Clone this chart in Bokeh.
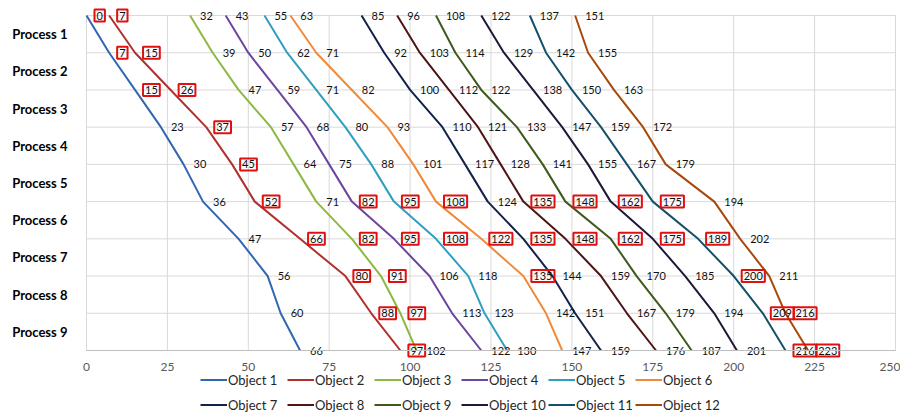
from bokeh.plotting import figure
from bokeh.models import Range1d, FixedTicker, Legend, LegendItem, ColumnDataSource
from bokeh.core.properties import value
from bokeh.embed import file_html
from bokeh.resources import INLINE

processes = ["Process 1", "Process 2", "Process 3", "Process 4", "Process 5",
             "Process 6", "Process 7", "Process 8", "Process 9"]
x_ticks = [0, 25, 50, 75, 100, 125, 150, 175, 200, 225, 250]
levels = [0, 1, 2, 3, 4, 5, 6, 7, 8, 9]

objects = ["Object 1", "Object 2", "Object 3", "Object 4", "Object 5", "Object 6",
           "Object 7", "Object 8", "Object 9", "Object 10", "Object 11", "Object 12"]

obj1 = [0, 7, 15, 23, 30, 36, 47, 56, 60, 66]
obj2 = [7, 15, 26, 37, 45, 52, 66, 80, 88, 97]
obj3 = [32, 39, 47, 57, 64, 71, 82, 91, 97, 102]
obj4 = [43, 50, 59, 68, 75, 82, 95, 106, 113, 122]
obj5 = [55, 62, 71, 80, 88, 95, 108, 118, 123, 130]
obj6 = [63, 71, 82, 93, 101, 108, 122, 135, 142, 147]
obj7 = [85, 92, 100, 110, 117, 124, 135, 144, 151, 159]
obj8 = [96, 103, 112, 121, 128, 135, 148, 159, 167, 176]
obj9 = [108, 114, 122, 133, 141, 148, 162, 170, 179, 187]
obj10 = [122, 129, 138, 147, 155, 162, 175, 185, 194, 201]
obj11 = [137, 142, 150, 159, 167, 175, 189, 200, 209, 216]
obj12 = [151, 155, 163, 172, 179, 194, 202, 211, 216, 223]
series = [obj1, obj2, obj3, obj4, obj5, obj6, obj7, obj8, obj9, obj10, obj11, obj12]

# boundary levels whose labels are highlighted (boxed) for each object
boxed = [
    [0, 1, 2],
    [0, 1, 2, 3, 4, 5, 6, 7, 8, 9],
    [6, 7, 8],
    [5, 6],
    [5, 6],
    [5, 6, 7],
    [6],
    [5, 6],
    [5, 6],
    [5, 6],
    [5, 6, 7, 8, 9],
    [8, 9],
]

colors = ["#2F67B1", "#B0302E", "#8DB843", "#6B46A0", "#2F9FC0", "#F08A3A",
          "#13224A", "#4D1515", "#3E5A1C", "#1F1838", "#14506A", "#A8480A"]

FONT = "Lato"
W, H = 900, 417
# plot area: x 0..250 spans px 86..895, levels 0..9 span px 15..350
sx = (895 - 86) / 250.0
sy = (350 - 15) / 9.0
xr = Range1d(-86 / sx, 250 + (W - 895) / sx)
yr = Range1d(9 + (H - 350) / sy, -15 / sy)

p = figure(width=W, height=H, output_backend="svg", toolbar_location=None,
           x_range=xr, y_range=yr,
           min_border_left=0, min_border_right=0, min_border_top=0, min_border_bottom=0)
p.outline_line_color = None
p.xgrid.visible = False
p.ygrid.visible = False

# grid lines limited to the plot area
p.segment(x0=x_ticks, y0=[levels[0]] * len(x_ticks), x1=x_ticks, y1=[levels[-1]] * len(x_ticks),
          line_color="#D9D9D9", line_width=1)
p.segment(x0=[x_ticks[0]] * len(levels), y0=levels, x1=[x_ticks[-1]] * len(levels), y1=levels,
          line_color="#D9D9D9", line_width=1)

p.xaxis.fixed_location = levels[-1]
p.xaxis.bounds = (x_ticks[0], x_ticks[-1])
p.xaxis.ticker = FixedTicker(ticks=x_ticks)
p.xaxis.major_tick_out = 0
p.xaxis.major_tick_in = 0
p.xaxis.minor_tick_out = 0
p.xaxis.minor_tick_in = 0
p.xaxis.axis_line_color = "#BFBFBF"
p.xaxis.major_label_standoff = 12
p.xaxis.major_label_text_font = FONT
p.xaxis.major_label_text_font_size = "12px"
p.xaxis.major_label_text_color = "#595959"

p.yaxis.fixed_location = x_ticks[0]
p.yaxis.ticker = FixedTicker(ticks=[i + 0.5 for i in range(9)])
p.yaxis.major_label_overrides = {i + 0.5: processes[i] for i in range(9)}
p.yaxis.major_tick_out = 0
p.yaxis.major_tick_in = 0
p.yaxis.minor_tick_out = 0
p.yaxis.minor_tick_in = 0
p.yaxis.axis_line_color = None
p.yaxis.major_label_standoff = 19
p.yaxis.major_label_text_font = FONT
p.yaxis.major_label_text_font_size = "13px"
p.yaxis.major_label_text_font_style = "bold"
p.yaxis.major_label_text_color = "#000000"

items = []
plain_x, plain_y, plain_t = [], [], []
box_x, box_y, box_t = [], [], []
for name, vals, col, bx in zip(objects, series, colors, boxed):
    r = p.line(vals, levels, line_color=col, line_width=2)
    items.append(LegendItem(label=name, renderers=[r]))
    for lv, v in zip(levels, vals):
        if lv in bx:
            box_x.append(v); box_y.append(lv); box_t.append(str(v))
        else:
            plain_x.append(v); plain_y.append(lv); plain_t.append(str(v))

plain_src = ColumnDataSource(dict(x=plain_x, y=plain_y, t=plain_t))
box_src = ColumnDataSource(dict(x=box_x, y=box_y, t=box_t))

p.text(x="x", y="y", text="t", source=plain_src, x_offset=10,
       text_align="left", text_baseline="middle",
       text_font=value(FONT), text_font_size="11px", text_color="#111111")
p.text(x="x", y="y", text="t", source=box_src, x_offset=8,
       text_align="left", text_baseline="middle",
       text_font=value(FONT), text_font_size="11px", text_color="#111111",
       border_line_color="#E01010", border_line_width=2, padding=2)

legend = Legend(items=items, orientation="horizontal", ncols=6,
                location=(200, 0), glyph_width=27, glyph_height=25, label_height=25,
                label_width=59, label_standoff=1, spacing=0, padding=0, margin=0,
                label_text_font=FONT, label_text_font_size="13px", label_text_color="#262626",
                border_line_color=None, background_fill_alpha=0)
p.add_layout(legend)

open("out.html", "w").write(file_html(p, INLINE))
